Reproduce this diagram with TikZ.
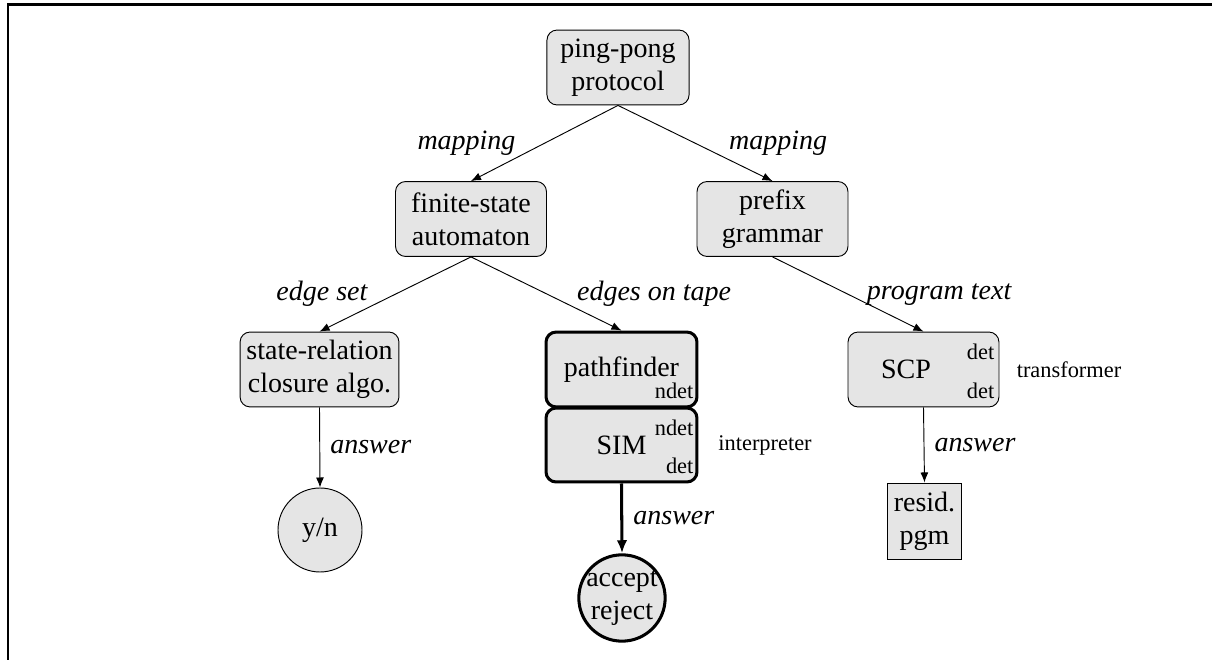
\documentclass[tikz,border=0pt]{standalone}
\usepackage{fontspec}
\setmainfont{Liberation Serif}
\usetikzlibrary{arrows.meta,positioning}
\tikzstyle{stage}=[draw,rounded corners=4.3pt,fill=gray!20,align=center,minimum width=64.7pt,minimum height=32.1pt,inner sep=2pt]
\tikzstyle{stagek}=[stage,line width=1.3pt]
\tikzstyle{result}=[draw,circle,fill=gray!20,align=center,inner sep=-1.5pt]
\tikzstyle{tag}=[font=\fontsize{9.6}{11}\selectfont]
\tikzstyle{corner}=[tag,anchor=east,inner sep=0pt,xshift=-2pt]
\tikzstyle{edgelab}=[font=\fontsize{12}{14}\selectfont\itshape]
\tikzstyle{flow}=[-{Latex[length=4.3pt,width=3.4pt]}]
\tikzstyle{flowk}=[line width=1.3pt,-{Latex[length=5.6pt,width=4.5pt]}]
\begin{document}
\begin{tikzpicture}[x=0.4286pt,y=-0.4286pt,font=\fontsize{12}{14}\selectfont]
    \useasboundingbox (0,0) rectangle (1212,660);
    \draw[line width=1.1pt] (7.8,660) -- (7.8,4.5) -- (1212,4.5);

    \node[stage,minimum width=60.9pt] (proto) at (618,67.5) {ping-pong\\protocol};
    \node[stage] (fsa) at (471,219) {finite-state\\automaton};
    \node[stage] (gram) at (772.5,219) {prefix\\grammar};
    \node[stage,minimum width=68.1pt] (closure) at (319.5,369.5) {state-relation\\closure algo.};
    \node[stagek] (path) at (621.5,369.5) {pathfinder};
    \node[stagek,minimum height=31.7pt] (sim) at (621.5,445) {SIM};
    \node[stage] (scp) at (923.5,369.5) {SCP\hspace*{15pt}};
    \node[result,minimum size=36pt] (yn) at (320,530) {y/n};
    \node[result,line width=1.3pt,minimum size=37pt] (acc) at (622,598) {accept\\reject};
    \node[draw,fill=gray!20,align=center,inner sep=0pt,minimum width=32.1pt,minimum height=32.6pt] (resid) at (924.5,521) {resid.\\pgm};

    % small marks in the corners
    \node[corner,yshift=-9pt] (pathnd) at (path.east) {ndet};
    \node[corner,yshift=7.5pt] (simnd) at (sim.east) {ndet};
    \node[corner,yshift=-9pt] (simd) at (sim.east) {det};
    \node[corner,yshift=7.5pt] (scpdu) at (scp.east) {det};
    \node[corner,yshift=-9pt] (scpdl) at (scp.east) {det};
    \node[tag,right=5pt of sim] (interp) {interpreter};
    \node[tag,right=3.9pt of scp] (transf) {transformer};

    \draw[flow] (proto.south) -- node[edgelab,midway,left=8.9pt] (map1) {mapping} (fsa.north);
    \draw[flow] (proto.south) -- node[edgelab,midway,right=11pt] (map2) {mapping} (gram.north);
    \draw[flow] (fsa.south) -- node[edgelab,midway,left=8.4pt] (eset) {edge set} (closure.north);
    \draw[flow] (fsa.south) -- node[edgelab,midway,right=9.7pt] (etape) {edges on tape} (path.north);
    \draw[flow] (gram.south) -- node[edgelab,midway,right=4.6pt] (ptext) {program text} (scp.north);
    \draw[flow] (closure.south) -- node[edgelab,midway,right=1pt] (ans1) {answer} (yn.north);
    \draw[flowk] (sim.south) -- node[edgelab,midway,right=1pt] (ans2) {answer} (acc.north);
    \draw[flow] (scp.south) -- node[edgelab,midway,right=1pt] (ans3) {answer} (resid.north);
\end{tikzpicture}
\end{document}
